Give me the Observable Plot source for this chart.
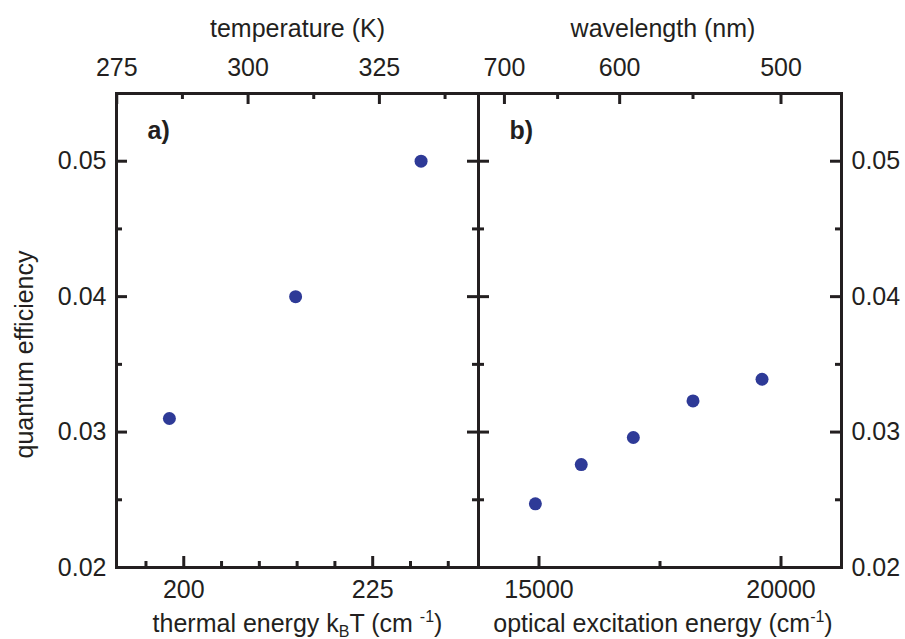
<!DOCTYPE html>
<html><head><meta charset="utf-8">
<script src="https://cdn.jsdelivr.net/npm/d3@7"></script>
<script src="https://cdn.jsdelivr.net/npm/@observablehq/plot@0.6"></script>
<style>
html,body{margin:0;padding:0;background:#fff;}
#wrap{position:relative;width:905px;height:639px;overflow:hidden;background:#fff;}
#wrap svg{position:absolute;top:0;background:transparent;}
</style></head><body><div id="wrap"></div>
<script>
const kB = 0.695035; // cm^-1 per K

// panel a: quantum efficiency vs thermal energy
const thermalEnergy = [198.1, 214.8, 231.4]; // cm^-1
const qeThermal = [0.0310, 0.0400, 0.0500];

// panel b: quantum efficiency vs optical excitation energy
const excitationEnergy = [14925, 15873, 16949, 18182, 19608]; // cm^-1
const qeOptical = [0.0247, 0.0276, 0.0296, 0.0323, 0.0339];

// axes
const yDomain = [0.02, 0.055];
const yMajor = [0.02, 0.03, 0.04, 0.05];
const yMinor = [0.025, 0.035, 0.045];

const xDomainA = [191.1, 239.0];
const xMajorA = [200, 225];
const xMinorA = [195, 205, 210, 215, 220, 230, 235];
const tempMajor = [275, 300, 325];      // K
const tempMinor = [287.5, 312.5, 337.5];

const xDomainB = [13750, 21250];
const xMajorB = [15000, 20000];
const xMinorB = [17500];
const wlMajor = [700, 600, 500];        // nm
const wlMinor = [650, 550];

const INK = "#231f20";
const DOT = "#2e3a97";
const FONT = "'Liberation Sans', Arial, Helvetica, sans-serif";
const H = 639, MT = 93, MB = 72;
const FH = H - MT - MB;
const MAJ = 11, MIN = 6;

function panel(o) {
  const fw = o.width - o.marginLeft - o.marginRight;
  const data = o.xs.map((x, i) => ({x, y: o.ys[i]}));
  const tk = {stroke: INK, strokeWidth: 3};
  const marks = [
    Plot.ruleX(o.xMajor, {x: d => d, insetTop: FH - MAJ, ...tk}),
    Plot.ruleX(o.xMinor, {x: d => d, insetTop: FH - MIN, ...tk}),
    Plot.ruleX(o.topMajor, {x: d => d, insetBottom: FH - MAJ, ...tk}),
    Plot.ruleX(o.topMinor, {x: d => d, insetBottom: FH - MIN, ...tk}),
    Plot.ruleY(yMajor, {y: d => d, insetRight: fw - MAJ, ...tk}),
    Plot.ruleY(yMinor, {y: d => d, insetRight: fw - MIN, ...tk}),
    Plot.ruleY(yMajor, {y: d => d, insetLeft: fw - MAJ, ...tk}),
    Plot.ruleY(yMinor, {y: d => d, insetLeft: fw - MIN, ...tk}),
    Plot.frame({stroke: INK, strokeWidth: 3}),
    Plot.axisX({anchor: "bottom", ticks: o.xMajor, tickSize: 0, tickPadding: 13, tickFormat: d => String(d), label: null}),
    Plot.axisX({anchor: "top", ticks: o.topMajor, tickSize: 0, tickPadding: 18, tickFormat: o.topFormat, label: null}),
    Plot.axisY({anchor: o.yAnchor, ticks: yMajor, tickSize: 0, tickPadding: 10, tickFormat: d3.format(".2f"), label: null}),
    Plot.dot(data, {x: "x", y: "y", r: 6.5, fill: DOT, stroke: null}),
    Plot.text([o.tag], {frameAnchor: "top-left", dx: o.tagDx, dy: 45, lineAnchor: "bottom", textAnchor: "start", fontWeight: "bold"}),
    Plot.text([o.topTitle], {frameAnchor: "top", dx: o.titleDx, dy: -57, lineAnchor: "bottom"}),
    Plot.text([o.xTitle], {frameAnchor: "bottom", dx: o.titleDx, dy: 64, lineAnchor: "bottom"})
  ];
  if (o.yTitle) marks.push(Plot.text([o.yTitle], {frameAnchor: "left", rotate: -90, dx: -92, dy: 24, lineAnchor: "middle", textAnchor: "middle"}));
  const svg = Plot.plot({
    width: o.width, height: H,
    marginLeft: o.marginLeft, marginRight: o.marginRight, marginTop: MT, marginBottom: MB,
    x: {domain: o.xDomain, axis: null},
    y: {domain: yDomain, axis: null},
    style: {fontSize: "25px", fontFamily: FONT, color: INK, background: "transparent", overflow: "visible"},
    marks
  });
  svg.style.left = o.left + "px";
  return svg;
}

function richify(svg, plain, parts) {
  d3.select(svg).selectAll("text").each(function () {
    if (this.textContent !== plain) return;
    this.textContent = "";
    let shift = 0;
    for (const p of parts) {
      const ts = document.createElementNS("http://www.w3.org/2000/svg", "tspan");
      ts.textContent = p.t;
      let target = p.sub ? 5 : p.sup ? -10 : 0;
      const dy = target - shift;
      if (dy) ts.setAttribute("dy", dy);
      shift = target;
      if (p.sub || p.sup) ts.setAttribute("font-size", "16px");
      this.appendChild(ts);
    }
  });
}

const wrap = document.getElementById("wrap");

const svgA = panel({
  left: 0, width: 480, marginLeft: 116, marginRight: 2,
  xDomain: xDomainA, xMajor: xMajorA, xMinor: xMinorA,
  topMajor: tempMajor.map(t => kB * t), topMinor: tempMinor.map(t => kB * t),
  topFormat: d => String(Math.round(d / kB)),
  yAnchor: "left", xs: thermalEnergy, ys: qeThermal,
  tag: "a)", tagDx: 31, titleDx: 0,
  topTitle: "temperature (K)", xTitle: "thermal energy kBT (cm -1)",
  yTitle: "quantum efficiency"
});
richify(svgA, "thermal energy kBT (cm -1)", [
  {t: "thermal energy k"}, {t: "B", sub: true}, {t: "T (cm "}, {t: "-1", sup: true}, {t: ")"}
]);

const svgB = panel({
  left: 476, width: 429, marginLeft: 2, marginRight: 64,
  xDomain: xDomainB, xMajor: xMajorB, xMinor: xMinorB,
  topMajor: wlMajor.map(w => 1e7 / w), topMinor: wlMinor.map(w => 1e7 / w),
  topFormat: d => String(Math.round(1e7 / d)),
  yAnchor: "right", xs: excitationEnergy, ys: qeOptical,
  tag: "b)", tagDx: 31, titleDx: 3,
  topTitle: "wavelength (nm)", xTitle: "optical excitation energy (cm-1)"
});
richify(svgB, "optical excitation energy (cm-1)", [
  {t: "optical excitation energy (cm"}, {t: "-1", sup: true}, {t: ")"}
]);

wrap.appendChild(svgA);
wrap.appendChild(svgB);
</script>
</body></html>
